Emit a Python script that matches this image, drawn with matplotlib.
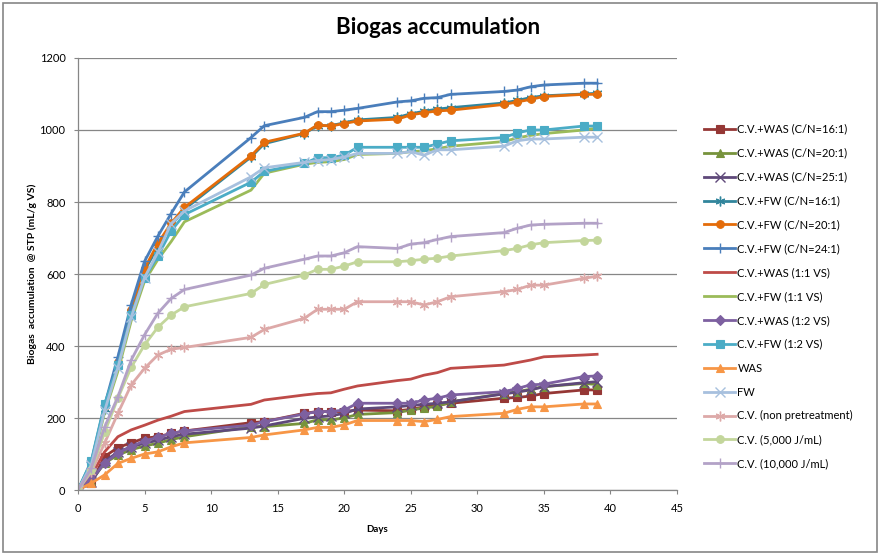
import matplotlib
matplotlib.use('Agg')
import matplotlib.pyplot as plt
from matplotlib.patches import Rectangle

plt.rcParams['font.family'] = ['Lato', 'DejaVu Sans']

days = [0, 1, 2, 3, 4, 5, 6, 7, 8, 13, 14, 17, 18, 19, 20, 21, 24, 25, 26, 27, 28, 32, 33, 34, 35, 38, 39]

was_cn16 = [0, 20, 93, 118, 131, 144, 148, 157, 164, 187, 190, 213, 218, 218, 218, 222, 220, 224, 231, 236, 241, 255, 257, 261, 268, 278, 278]
was_cn20 = [0, 25, 75, 97, 112, 122, 130, 140, 148, 176, 176, 185, 195, 195, 200, 210, 215, 222, 228, 232, 245, 268, 273, 280, 287, 296, 293]
was_cn25 = [0, 22, 80, 105, 120, 130, 138, 148, 155, 172, 178, 199, 203, 206, 213, 225, 231, 235, 238, 241, 245, 267, 272, 278, 287, 298, 301]
fw_cn16 = [0, 72, 225, 350, 495, 610, 675, 735, 780, 925, 962, 990, 1012, 1012, 1020, 1028, 1035, 1045, 1052, 1058, 1062, 1075, 1082, 1090, 1095, 1100, 1102]
fw_cn20 = [0, 75, 232, 355, 500, 615, 685, 741, 785, 928, 966, 991, 1014, 1011, 1018, 1025, 1030, 1042, 1048, 1053, 1055, 1071, 1078, 1085, 1093, 1099, 1099]
fw_cn24 = [0, 78, 235, 370, 515, 635, 705, 768, 828, 979, 1012, 1035, 1051, 1051, 1055, 1060, 1078, 1081, 1088, 1090, 1099, 1107, 1111, 1120, 1125, 1130, 1130]
was_11 = [0, 40, 106, 148, 167, 180, 194, 205, 218, 238, 250, 264, 268, 270, 280, 289, 304, 308, 319, 326, 338, 347, 354, 361, 370, 375, 377]
fw_11 = [0, 65, 215, 330, 470, 580, 640, 690, 745, 833, 880, 905, 910, 912, 918, 932, 935, 940, 942, 948, 955, 968, 978, 985, 990, 1000, 1005]
was_12 = [0, 30, 74, 103, 120, 137, 146, 157, 164, 180, 190, 211, 218, 218, 222, 241, 241, 241, 250, 255, 264, 273, 282, 292, 294, 315, 317]
fw_12 = [0, 81, 239, 347, 486, 589, 650, 720, 765, 855, 885, 907, 923, 923, 930, 952, 952, 952, 952, 961, 970, 979, 992, 1000, 1000, 1011, 1011]
was = [0, 19, 42, 74, 88, 100, 106, 120, 131, 146, 153, 167, 174, 174, 181, 193, 193, 193, 190, 196, 204, 213, 224, 231, 231, 239, 239]
fw = [0, 70, 220, 340, 480, 590, 660, 740, 775, 870, 895, 910, 915, 918, 925, 935, 935, 940, 930, 945, 945, 955, 970, 975, 975, 980, 980]
cv_raw = [0, 50, 130, 213, 292, 338, 375, 391, 396, 424, 446, 477, 502, 502, 502, 523, 523, 523, 514, 523, 537, 551, 557, 569, 569, 588, 594]
cv_5000 = [0, 55, 160, 255, 341, 403, 452, 486, 509, 546, 571, 597, 613, 613, 622, 634, 634, 637, 641, 644, 650, 665, 671, 681, 687, 693, 694]
cv_10000 = [0, 60, 175, 259, 361, 431, 491, 532, 557, 597, 616, 641, 650, 650, 659, 676, 671, 683, 687, 696, 704, 715, 727, 736, 738, 741, 741]

# label, values, colour, marker
series = [
    ('C.V.+WAS (C/N=16:1)', was_cn16, '#953735', 's'),
    ('C.V.+WAS (C/N=20:1)', was_cn20, '#77933C', '^'),
    ('C.V.+WAS (C/N=25:1)', was_cn25, '#5F497A', 'x'),
    ('C.V.+FW (C/N=16:1)', fw_cn16, '#31859C', (6, 2, 0)),
    ('C.V.+FW (C/N=20:1)', fw_cn20, '#E46C0A', 'o'),
    ('C.V.+FW (C/N=24:1)', fw_cn24, '#4A7EBB', '+'),
    ('C.V.+WAS (1:1 VS)', was_11, '#BE4B48', None),
    ('C.V.+FW (1:1 VS)', fw_11, '#9BBB59', None),
    ('C.V.+WAS (1:2 VS)', was_12, '#7D60A0', 'D'),
    ('C.V.+FW (1:2 VS)', fw_12, '#4BACC6', 's'),
    ('WAS', was, '#F79646', '^'),
    ('FW', fw, '#A7C0DE', 'x'),
    ('C.V. (non pretreatment)', cv_raw, '#DDA9A8', (6, 2, 0)),
    ('C.V. (5,000 J/mL)', cv_5000, '#C3D69B', 'o'),
    ('C.V. (10,000 J/mL)', cv_10000, '#B3A2C7', '+'),
]

fig = plt.figure(figsize=(8.8, 5.55), dpi=100)
ax = fig.add_axes([0.0886, 0.1171, 0.6807, 0.7784])

for label, vals, col, mk in series:
    thin = mk in ('x', '+', (6, 2, 0))
    ax.plot(days, vals, color=col, lw=2.0, marker=mk, markersize=7 if thin else 5.5,
            markeredgewidth=1.0 if thin else 0.8, markeredgecolor=col, label=label)

ax.set_xlim(0, 45)
ax.set_ylim(0, 1200)
ax.set_xticks(range(0, 46, 5))
ax.set_yticks(range(0, 1201, 200))
ax.grid(axis='y', color='#868686', lw=0.9)
ax.set_axisbelow(True)
for s in ['top', 'right']:
    ax.spines[s].set_visible(False)
for s in ['left', 'bottom']:
    ax.spines[s].set_color('#868686')
    ax.spines[s].set_linewidth(0.9)
ax.tick_params(length=3, color='#868686', labelsize=8, pad=6)
ax.set_xlabel('Days', fontsize=7, fontweight='bold', labelpad=8)
ax.set_ylabel('Biogas  accumulation  @ STP (mL/g VS)', fontsize=7.5, fontweight='bold', labelpad=2)

fig.text(0.498, 0.95, 'Biogas accumulation', ha='center', va='center', fontsize=16, fontweight='bold')

fig.legend(loc='upper left', bbox_to_anchor=(0.795, 0.785), frameon=False, fontsize=8,
           handlelength=2.8, handletextpad=0.2, labelspacing=1.16, borderaxespad=0)

fig.patches.append(Rectangle((0.003, 0.005), 0.994, 0.99, transform=fig.transFigure,
                             fill=False, edgecolor='#868686', lw=1.2))

fig.savefig('out.png', dpi=100)
